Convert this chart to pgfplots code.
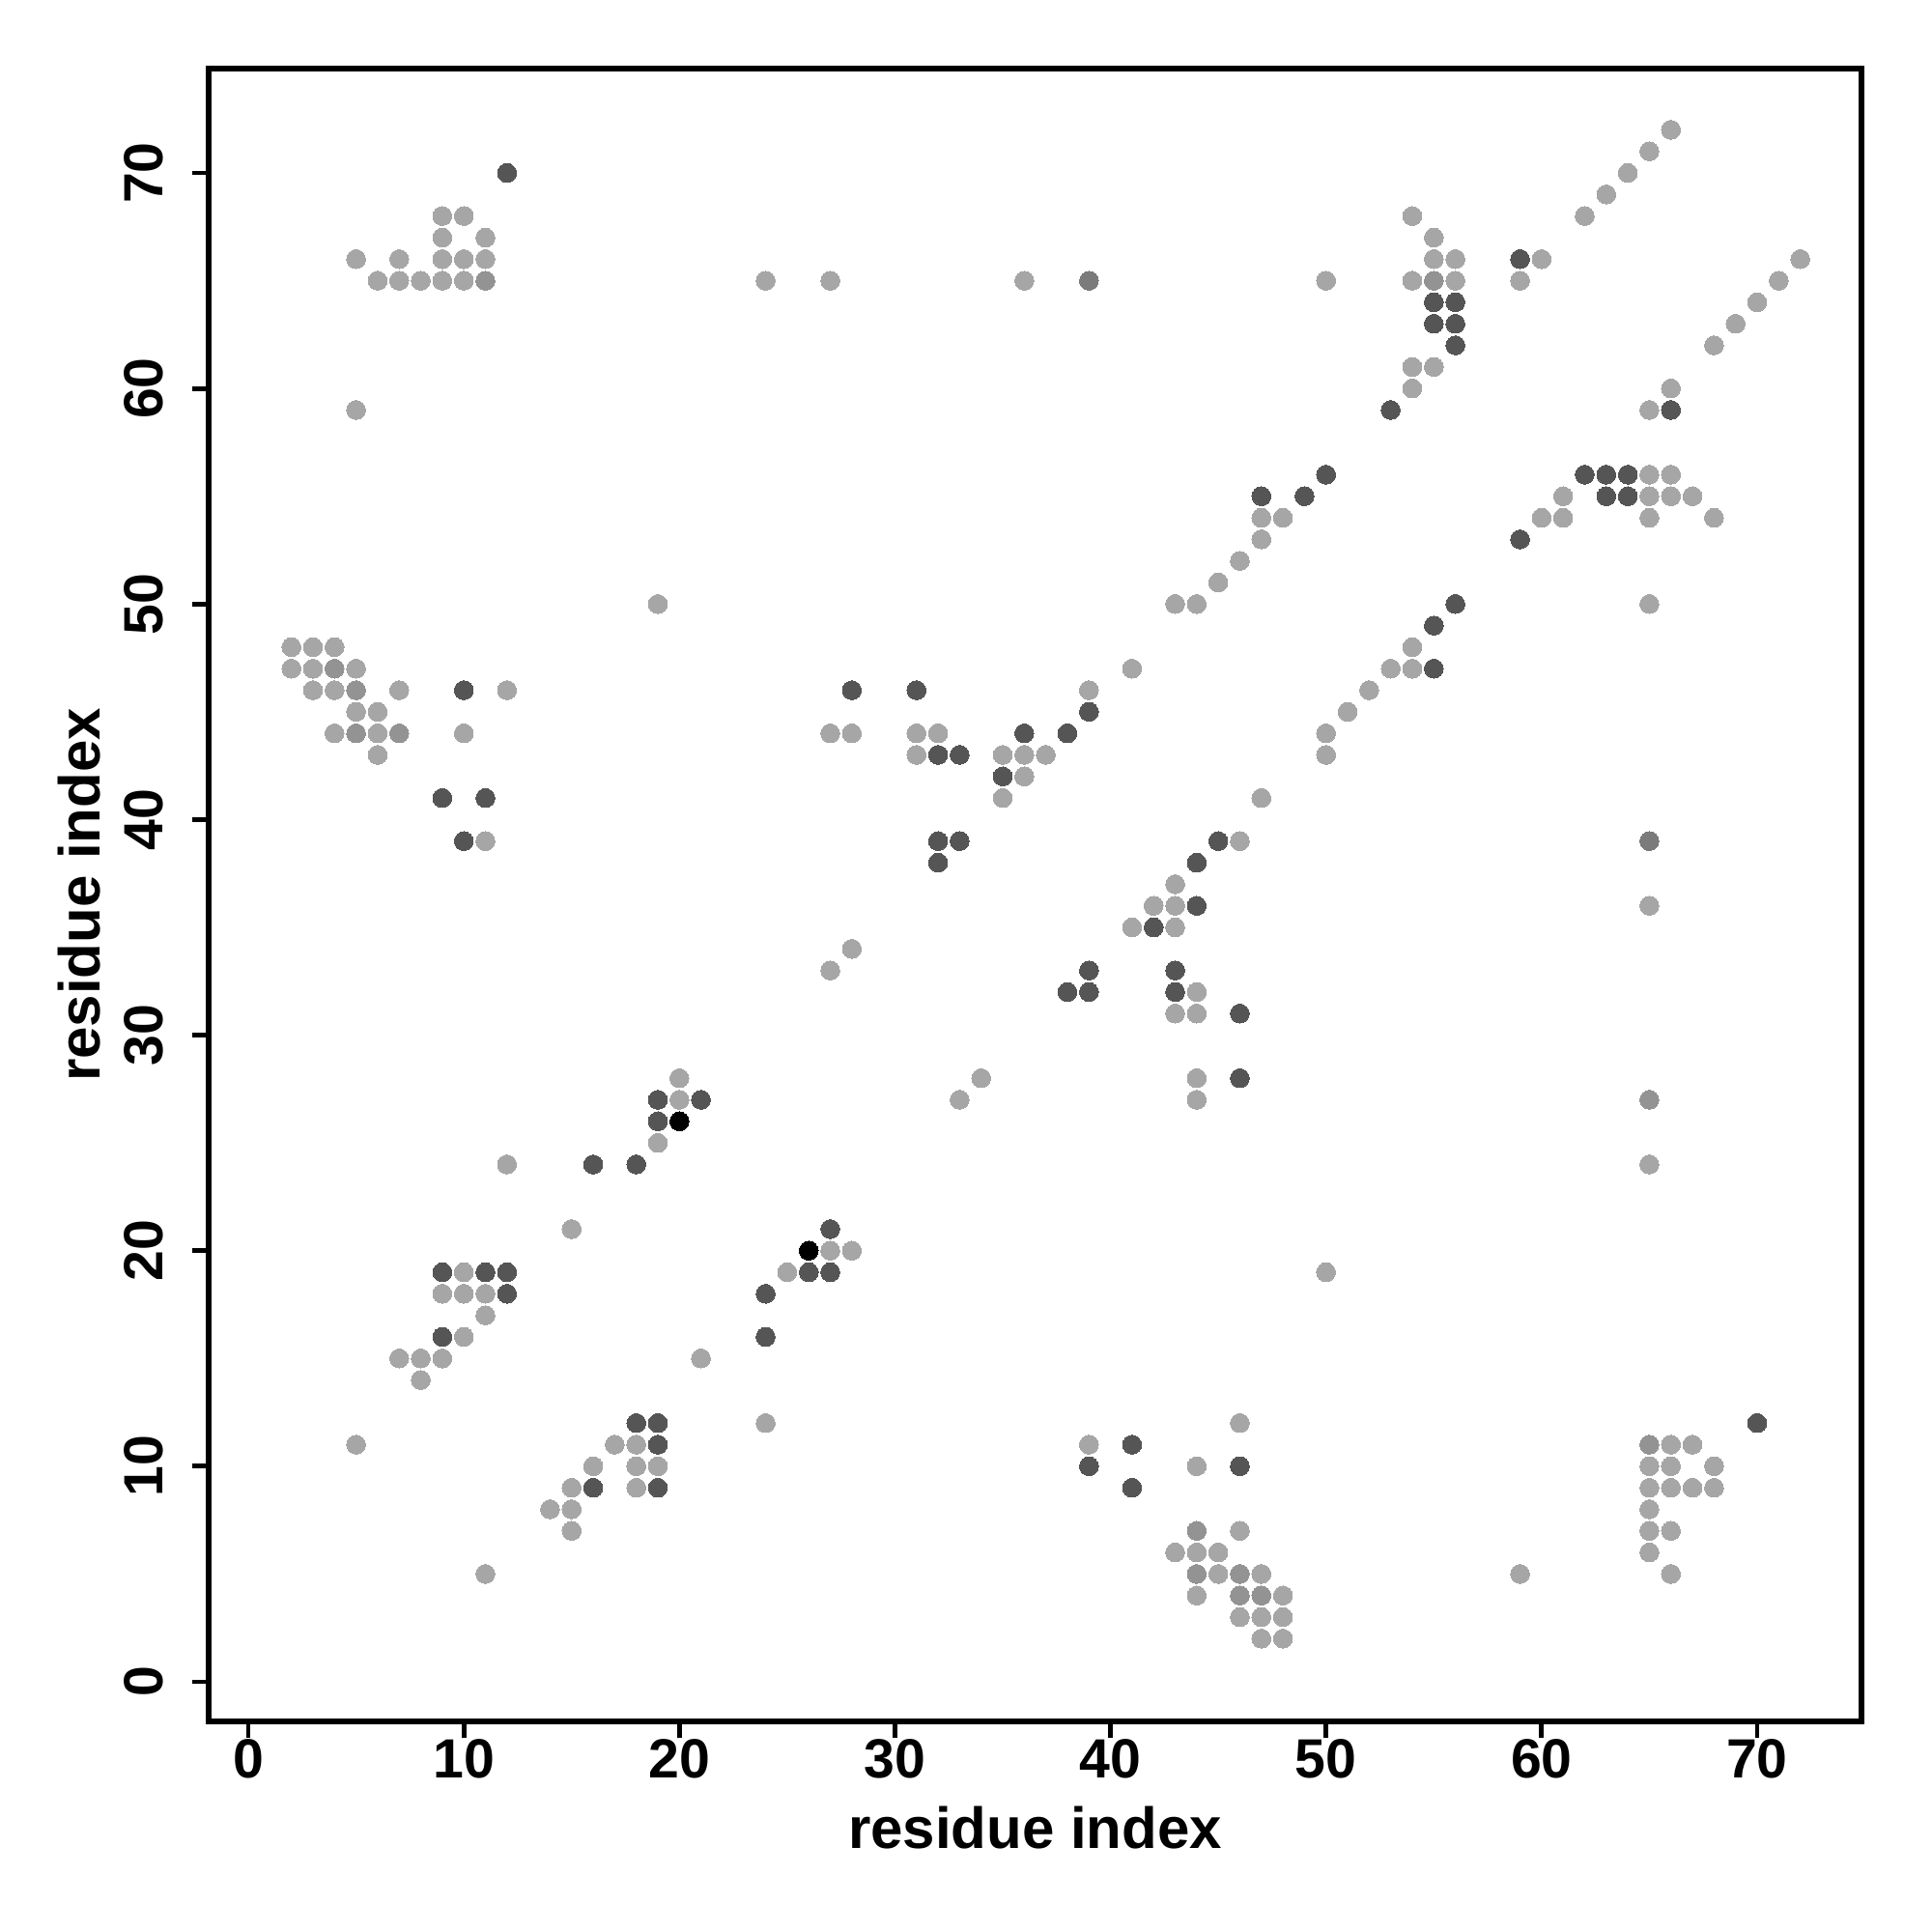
\documentclass[border=0pt]{standalone}
\usepackage{fontspec}
\setmainfont{Liberation Sans}
\usepackage{pgfplots}
\pgfplotsset{compat=1.18}
\definecolor{cLight}{HTML}{A6A6A6}
\definecolor{cMidL}{HTML}{939393}
\definecolor{cMid}{HTML}{7B7B7B}
\definecolor{cDark}{HTML}{555555}
\begin{document}
\begin{tikzpicture}
\useasboundingbox (-54pt,-54.5pt) rectangle (446pt,445.5pt);
\begin{axis}[
  scale only axis, width=427.75pt, height=427.75pt,
  xmin=-1.84, xmax=74.84, ymin=-1.84, ymax=74.84,
  xtick={0,10,...,70}, ytick={0,10,...,70},
  tick pos=left, tick align=outside,
  major tick length=4.2pt,
  axis line style={line width=1.4pt},
  every tick/.style={black, line width=1.2pt},
  /pgf/number format/assume math mode=true,
  xticklabel style={font=\fontsize{14.3}{14.3}\selectfont\bfseries, anchor=center, yshift=-5.5pt},
  yticklabel style={font=\fontsize{14.3}{14.3}\selectfont\bfseries, anchor=center, xshift=-12.5pt, rotate=90},
  xlabel={residue index}, ylabel={residue index},
  every axis x label/.style={at={(axis description cs:0.5,0)}, anchor=center, yshift=-27.4pt, font=\fontsize{15}{15}\selectfont\bfseries},
  every axis y label/.style={at={(axis description cs:0,0.5)}, xshift=-33.6pt, rotate=90, anchor=center, font=\fontsize{15}{15}\selectfont\bfseries},
  clip=false,
]
\addplot[only marks, mark=*, mark size=2.45pt, color=cLight, mark options={solid, draw=cLight, fill=cLight, line width=0pt}] coordinates {
(9,68) (10,68) (9,67) (11,67) (5,66) (7,66) (9,66) (10,66) (11,66) (6,65) (7,65) (8,65) (9,65) (10,65) (5,59) (24,65) (27,65) (36,65) (50,65)
(54,68) (55,67) (55,66) (56,66) (54,65) (56,65) (54,61) (55,61) (54,60) (60,66) (59,65) (62,68) (63,69) (64,70) (65,71) (66,72) (68,62) (69,63) (70,64) (71,65) (72,66) (65,59) (66,60) (65,56) (66,56) (61,55) (65,55) (66,55) (67,55) (60,54) (61,54) (65,54) (68,54) (65,50) (54,48) (53,47) (54,47) (52,46) (51,45) (50,44) (50,43) (65,36) (65,24) (50,19)
(19,50) (2,48) (3,48) (4,48) (2,47) (3,47) (5,47) (3,46) (4,46) (7,46) (12,46) (5,45) (6,45) (4,44) (6,44) (10,44) (6,43) (11,39)
(43,50) (44,50) (45,51) (46,52) (47,53) (47,54) (48,54) (41,47) (39,46) (27,44) (28,44) (31,44) (32,44) (31,43) (35,43) (36,43) (37,43) (36,42) (35,41) (43,37) (42,36) (43,36) (41,35) (43,35) (46,39) (47,41) (28,34) (27,33) (44,32) (43,31) (44,31) (34,28) (33,27) (44,28) (44,27)
(20,28) (20,27) (19,25) (12,24) (15,21) (10,19) (9,18) (10,18) (11,18) (11,17) (10,16) (7,15) (8,15) (9,15) (21,15) (8,14) (25,19) (27,20) (28,20) (24,12)
(5,11) (17,11) (18,11) (16,10) (18,10) (19,10) (15,9) (18,9) (14,8) (15,8) (15,7) (11,5)
(39,11) (44,10) (46,12) (46,7) (43,6) (44,6) (45,6) (45,5) (47,5) (44,4) (48,4) (46,3) (47,3) (48,3) (47,2) (48,2)
(66,11) (67,11) (65,10) (66,10) (68,10) (65,9) (66,9) (67,9) (68,9) (65,8) (65,7) (66,7) (65,6) (66,5) (59,5)
};
\addplot[only marks, mark=*, mark size=2.45pt, color=cMidL, mark options={solid, draw=cMidL, fill=cMidL, line width=0pt}] coordinates {
(11,65) (55,65) (4,47) (5,46) (5,44) (7,44) (44,7) (44,5) (46,5) (46,4) (47,4) (65,11) (65,27)
};
\addplot[only marks, mark=*, mark size=2.45pt, color=cMid, mark options={solid, draw=cMid, fill=cMid, line width=0pt}] coordinates {
(39,65) (65,39)
};
\addplot[only marks, mark=*, mark size=2.45pt, color=cDark, mark options={solid, draw=cDark, fill=cDark, line width=0pt}] coordinates {
(12,70) (55,64) (56,64) (55,63) (56,63) (56,62) (53,59) (59,66) (66,59) (62,56) (63,56) (64,56) (50,56) (63,55) (64,55) (59,53) (56,50) (55,49) (55,47) (47,55) (49,55)
(39,45) (28,46) (31,46) (36,44) (38,44) (32,43) (33,43) (35,42) (32,39) (33,39) (32,38) (45,39) (44,38) (44,36) (42,35)
(10,46) (9,41) (11,41) (10,39) (39,33) (38,32) (39,32) (43,33) (43,32) (46,31) (46,28)
(19,27) (21,27) (19,26) (16,24) (18,24) (9,19) (11,19) (12,19) (12,18) (9,16) (24,18) (24,16) (26,19) (27,19) (27,21)
(18,12) (19,12) (19,11) (16,9) (19,9) (41,11) (39,10) (46,10) (41,9) (70,12)
};
\addplot[only marks, mark=*, mark size=2.45pt, color=black, mark options={solid, draw=black, fill=black, line width=0pt}] coordinates {
(20,26) (26,20)
};
\end{axis}
\end{tikzpicture}
\end{document}
